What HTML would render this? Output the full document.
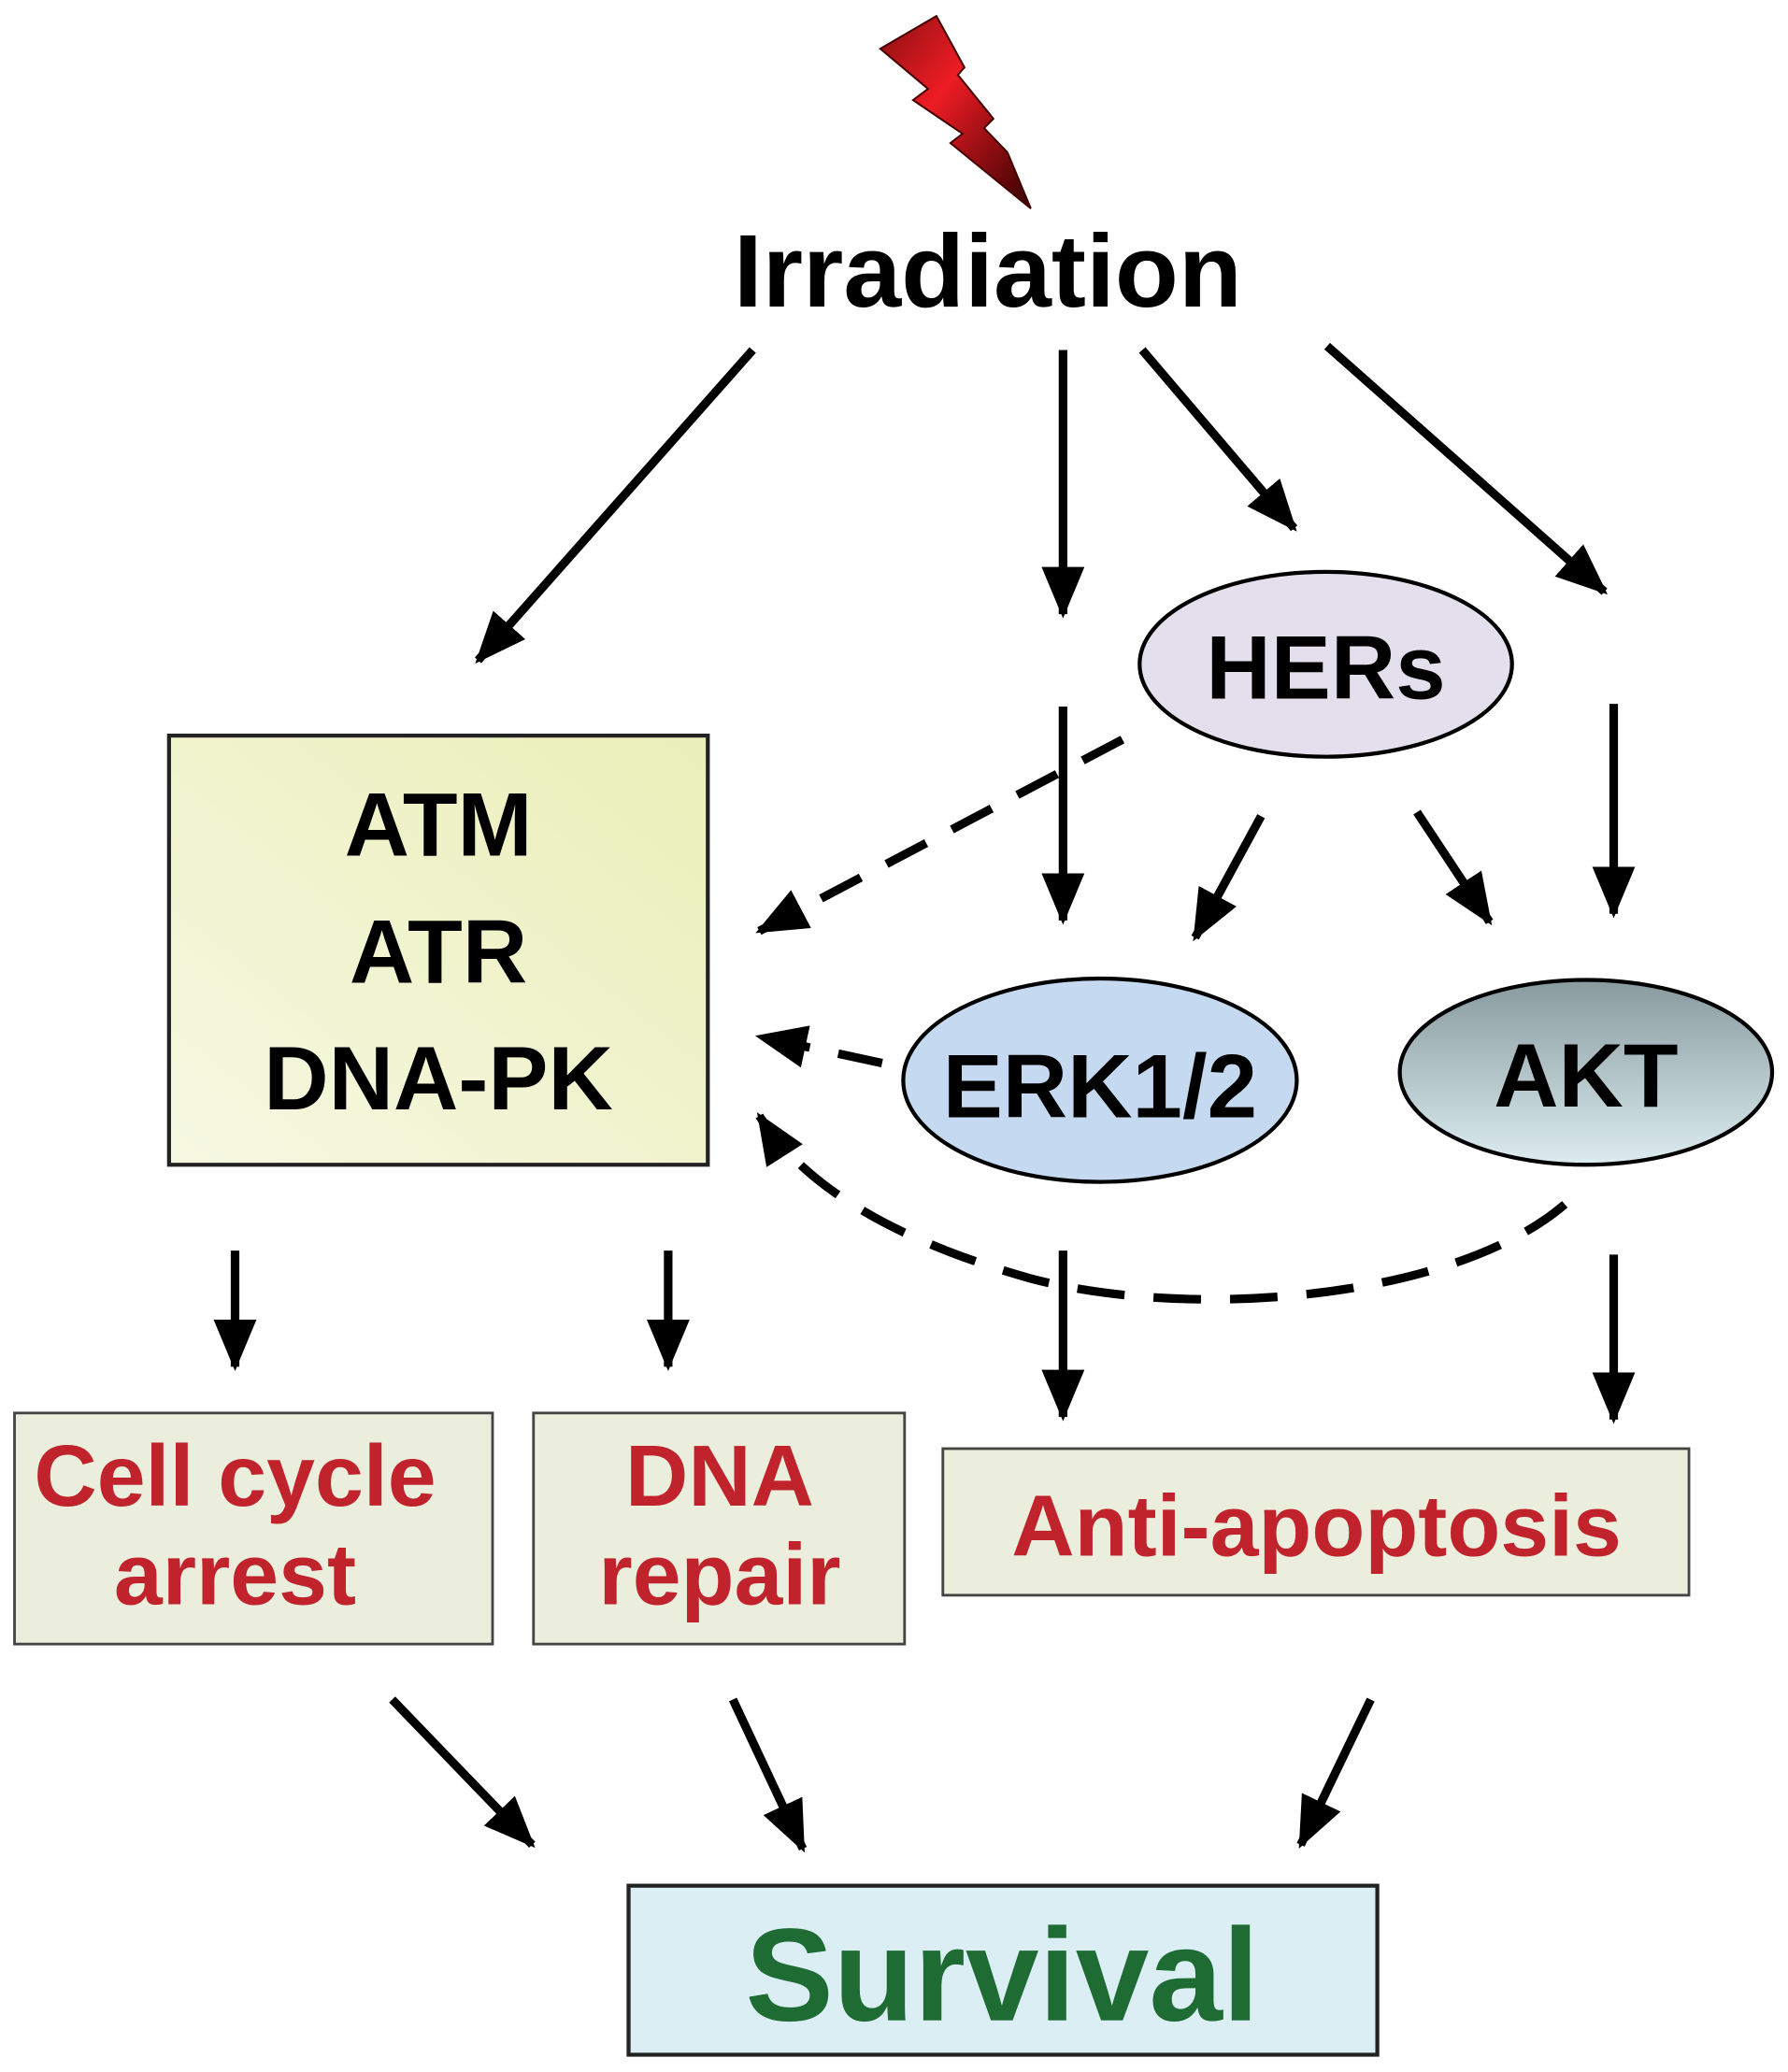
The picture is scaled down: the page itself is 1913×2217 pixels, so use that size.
<!DOCTYPE html>
<html><head><meta charset="utf-8"><style>
html,body{margin:0;padding:0;background:#fff;}
svg{display:block;}
text{font-family:"Liberation Sans Narrow","Liberation Sans",sans-serif;font-weight:bold;}
</style></head><body>
<svg width="1913" height="2217" viewBox="0 0 1354 1569" xmlns="http://www.w3.org/2000/svg">
<defs>
<marker id="ah" markerWidth="6" markerHeight="5" refX="5.5" refY="2.5" orient="auto" markerUnits="strokeWidth">
<path d="M0,0 L6,2.5 L0,5 Z" fill="#000"/>
</marker>
<linearGradient id="lg" x1="0" y1="0" x2="1" y2="1">
<stop offset="0" stop-color="#8a0f12"/><stop offset="0.4" stop-color="#ee1c24"/><stop offset="1" stop-color="#300"/>
</linearGradient>
<linearGradient id="akt" x1="0" y1="0" x2="0" y2="1">
<stop offset="0" stop-color="#889a9e"/><stop offset="1" stop-color="#dcecf1"/>
</linearGradient>
<linearGradient id="atm" x1="1" y1="0" x2="0" y2="1">
<stop offset="0" stop-color="#eaefb8"/><stop offset="1" stop-color="#f6f8e2"/>
</linearGradient>
</defs>
<g transform="scale(0.7077)">
<polygon points="942,52 1002,17 1032,72 1025,80 1063,127 1053,137 1078,163 1103,223 1017,153 1030,143 977,107 993,95" fill="url(#lg)" stroke="#400" stroke-width="2"/>
</g>
<text x="748" y="232" font-size="78" text-anchor="middle" textLength="385" lengthAdjust="spacingAndGlyphs">Irradiation</text>

<g stroke="#000" stroke-width="6.5" fill="none">
<line x1="570" y1="265" x2="362" y2="500" marker-end="url(#ah)"/>
<line x1="805" y1="265" x2="805" y2="465" marker-end="url(#ah)"/>
<line x1="865" y1="265" x2="980" y2="400" marker-end="url(#ah)"/>
<line x1="1005" y1="262" x2="1215" y2="448" marker-end="url(#ah)"/>
<line x1="805" y1="535" x2="805" y2="697" marker-end="url(#ah)"/>
<line x1="955" y1="618" x2="905" y2="710" marker-end="url(#ah)"/>
<line x1="1073" y1="615" x2="1128" y2="698" marker-end="url(#ah)"/>
<line x1="1222" y1="533" x2="1222" y2="692" marker-end="url(#ah)"/>
<line x1="850" y1="560" x2="575" y2="705" stroke-dasharray="34,22" marker-end="url(#ah)"/>
<line x1="668" y1="805" x2="575" y2="785" stroke-dasharray="34,22" marker-end="url(#ah)"/>
<path d="M1185,912 C1100,985 900,1000 780,968 C680,940 610,900 575,845" stroke-dasharray="36,22" marker-end="url(#ah)"/>
<line x1="178" y1="947" x2="178" y2="1035" marker-end="url(#ah)"/>
<line x1="506" y1="947" x2="506" y2="1035" marker-end="url(#ah)"/>
<line x1="805" y1="947" x2="805" y2="1073" marker-end="url(#ah)"/>
<line x1="1222" y1="950" x2="1222" y2="1075" marker-end="url(#ah)"/>
<line x1="297" y1="1287" x2="403" y2="1397" marker-end="url(#ah)"/>
<line x1="555" y1="1287" x2="608" y2="1400" marker-end="url(#ah)"/>
<line x1="1038" y1="1287" x2="985" y2="1397" marker-end="url(#ah)"/>
</g>

<ellipse cx="1004" cy="503" rx="141" ry="70" fill="#e4dfec" stroke="#000" stroke-width="3"/>
<text x="1004" y="529" font-size="68" text-anchor="middle">HERs</text>

<rect x="128" y="557" width="408" height="325" fill="url(#atm)" stroke="#222" stroke-width="3"/>
<text x="332" y="648" font-size="68" text-anchor="middle">ATM</text>
<text x="332" y="744" font-size="68" text-anchor="middle">ATR</text>
<text x="332" y="840" font-size="68" text-anchor="middle">DNA-PK</text>

<ellipse cx="833" cy="818" rx="149" ry="77" fill="#c5d9f0" stroke="#000" stroke-width="3"/>
<text x="833" y="846" font-size="68" text-anchor="middle">ERK1/2</text>
<ellipse cx="1201" cy="812" rx="141" ry="70" fill="url(#akt)" stroke="#000" stroke-width="3"/>
<text x="1201" y="838" font-size="68" text-anchor="middle">AKT</text>

<g fill="#eceedd" stroke="#444" stroke-width="2">
<rect x="11" y="1070" width="362" height="175"/>
<rect x="404" y="1070" width="281" height="175"/>
<rect x="714" y="1097" width="565" height="111"/>
</g>
<g fill="#c0232b" font-size="66" text-anchor="middle">
<text x="178" y="1140">Cell cycle</text>
<text x="178" y="1215">arrest</text>
<text x="545" y="1140">DNA</text>
<text x="545" y="1215">repair</text>
<text x="997" y="1178">Anti-apoptosis</text>
</g>
<rect x="476" y="1428" width="567" height="128" fill="#daeef3" stroke="#222" stroke-width="3"/>
<text x="759" y="1530" font-size="100" fill="#1e6b34" text-anchor="middle">Survival</text>
</svg>
</body></html>
